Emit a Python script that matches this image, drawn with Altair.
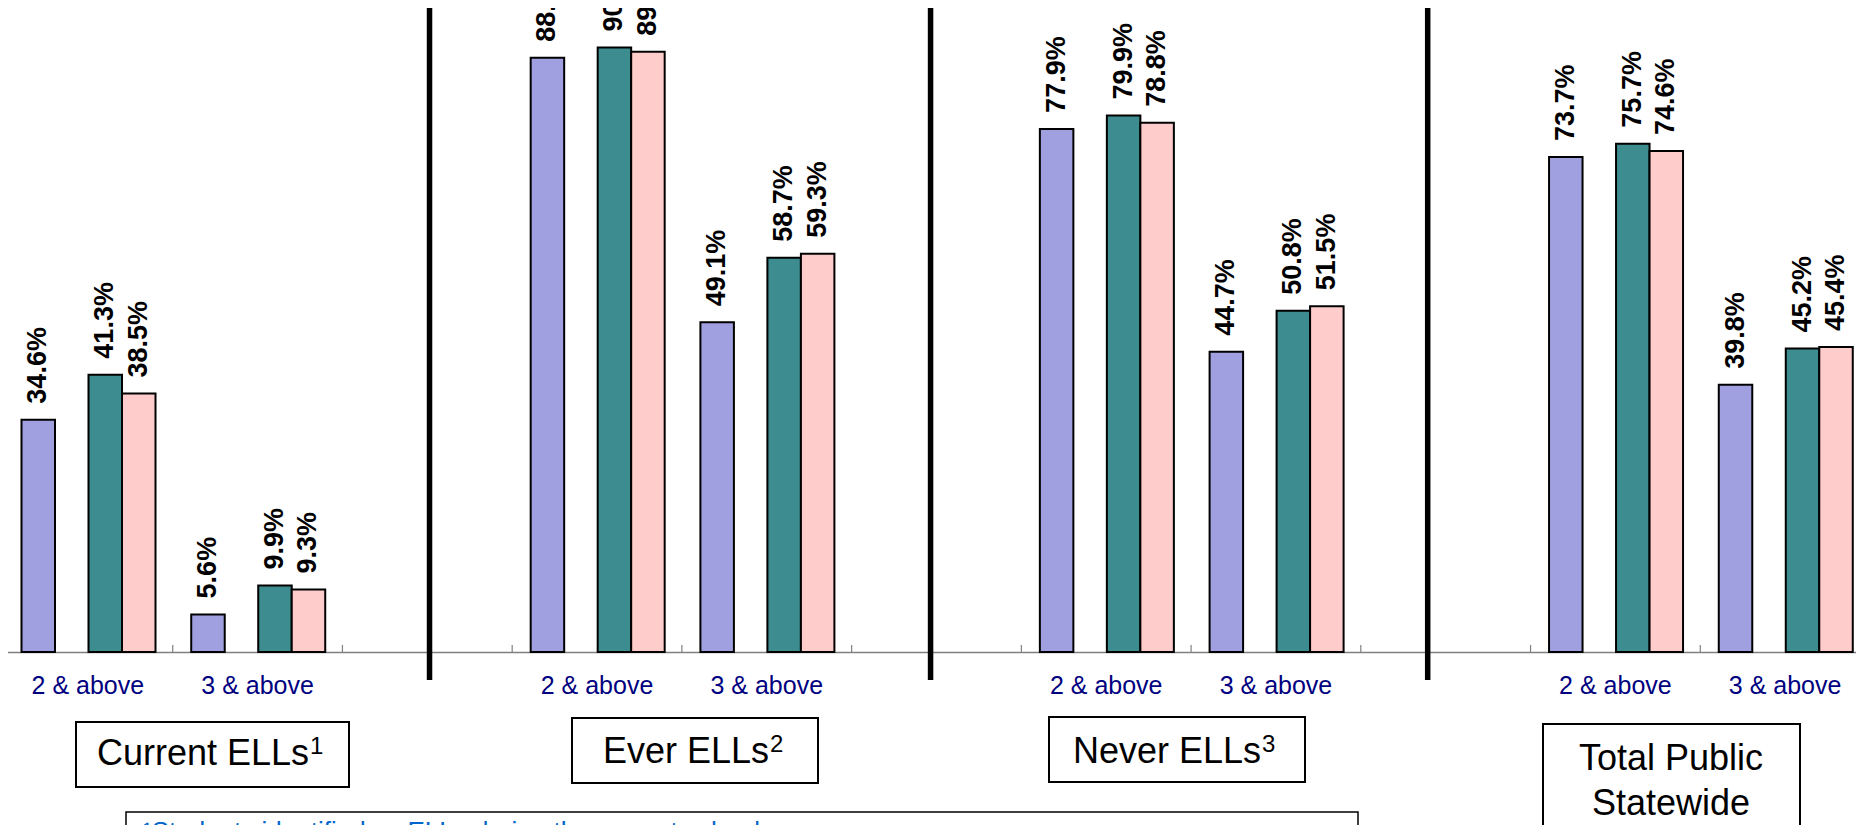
import altair as alt
import pandas as pd

# ---------------- data ----------------
groups = ["Current ELLs", "Ever ELLs", "Never ELLs", "Total Public Statewide"]
levels = ["2 & above", "3 & above"]
series = ["Series 1", "Series 2", "Series 3"]
series1 = [34.6, 5.6, 88.5, 49.1, 77.9, 44.7, 73.7, 39.8]
series2 = [41.3, 9.9, 90.0, 58.7, 79.9, 50.8, 75.7, 45.2]
series3 = [38.5, 9.3, 89.4, 59.3, 78.8, 51.5, 74.6, 45.4]
colors = ["#A0A0E0", "#3D8C8F", "#FFCCCC"]
panel_titles = ["Current ELLs", "Ever ELLs", "Never ELLs", "Total Public\nStatewide"]
panel_sups = ["1", "2", "3", ""]
footnote = "¹Students identified as ELLs during the current school year"

# x categories: two levels per group, an empty spacer slot between groups
cats = []
for i, g in enumerate(groups):
    if i > 0:
        cats.append(f"gap{i}")
    for lv in levels:
        cats.append(f"{g}|{lv}")

rows = []
for s, vals in zip(series, [series1, series2, series3]):
    k = 0
    for g in groups:
        for lv in levels:
            rows.append({"cat": f"{g}|{lv}", "series": s, "value": vals[k]})
            k += 1
df = pd.DataFrame(rows)

FONT = "Liberation Sans"

x_scale = alt.Scale(domain=cats, range=[-5, 1862], paddingInner=0, paddingOuter=0)
off_scale = alt.Scale(domain=["Series 1", "blank", "Series 2", "Series 3"],
                      range=[18.5, 152.5], paddingInner=0, paddingOuter=0)
y_scale = alt.Scale(domain=[0, 95.9], nice=False, zero=True)

x_axis = alt.Axis(
    title=None, ticks=False, tickSize=0, grid=False,
    domain=True, domainColor="#808080", domainWidth=1.5,
    labelExpr="indexof(datum.label, '|') >= 0 ? split(datum.label, '|')[1] : ''",
    labelFontSize=25, labelFont=FONT, labelColor="#000080",
    labelPadding=21, labelAngle=0, labelOverlap=False, labelFlush=False,
)


def xenc(band=None):
    if band is None:
        return alt.X("cat:N", scale=x_scale, axis=x_axis)
    return alt.X("cat:N", scale=x_scale, axis=x_axis, bandPosition=band)


bars = alt.Chart(df).mark_bar(stroke="black", strokeWidth=2).encode(
    x=xenc(),
    xOffset=alt.XOffset("series:N", scale=off_scale),
    y=alt.Y("value:Q", scale=y_scale, axis=None),
    color=alt.Color("series:N", scale=alt.Scale(domain=series, range=colors), legend=None),
)

labels = alt.Chart(df).transform_calculate(
    label="format(datum.value, '.1f') + '%'"
).mark_text(
    angle=270, align="left", baseline="middle", dx=16,
    fontSize=27, fontWeight="bold", font=FONT, color="black",
).encode(
    x=xenc(),
    xOffset=alt.XOffset("series:N", scale=off_scale),
    y=alt.Y("value:Q", scale=y_scale, axis=None),
    text="label:N",
)

ticks = alt.Chart(pd.DataFrame({"cat": cats})).mark_rule(
    color="#808080", strokeWidth=1.2
).encode(
    x=xenc(0),
    y=alt.datum(0, scale=y_scale),
    y2=alt.datum(1.05),
)

layers = [bars, labels, ticks]

# thick separators between groups
for gap, bp in [("gap1", 0.513), ("gap2", 0.465), ("gap3", 0.394)]:
    layers.append(
        alt.Chart(pd.DataFrame({"cat": [gap]})).mark_rule(
            color="black", strokeWidth=5.5
        ).encode(x=xenc(bp), y=alt.value(0), y2=alt.value(672))
    )

# group title boxes (pixel placement): box x1,x2,y1,y2 ; text x, baseline ; superscript x
boxes = [
    (68, 341, 714, 779, 89, 757, 302),
    (564, 810, 710, 775, 595, 755, 762),
    (1041, 1297, 709, 774, 1065, 755, 1254),
    (1535, 1792, 716, 842, 1663, 762, None),
]
for title, sup, (bx1, bx2, by1, by2, tx, ty, sx) in zip(panel_titles, panel_sups, boxes):
    d = pd.DataFrame({"t": [title], "s": [sup]})
    layers.append(
        alt.Chart(d).mark_rect(fill="white", stroke="black", strokeWidth=2).encode(
            x=alt.value(bx1), x2=alt.value(bx2), y=alt.value(by1), y2=alt.value(by2)
        )
    )
    layers.append(
        alt.Chart(d).mark_text(
            fontSize=36, font=FONT, color="black",
            align="left" if sx is not None else "center",
            baseline="alphabetic", lineBreak="\n", lineHeight=45,
        ).encode(x=alt.value(tx), y=alt.value(ty), text="t:N")
    )
    if sx is not None:
        layers.append(
            alt.Chart(d).mark_text(
                fontSize=24, font=FONT, color="black", align="left", baseline="alphabetic",
            ).encode(x=alt.value(sx), y=alt.value(ty - 11), text="s:N")
        )

# footnote box
fd = pd.DataFrame({"t": [footnote]})
layers.append(
    alt.Chart(fd).mark_rect(fill="white", stroke="black", strokeWidth=1.5).encode(
        x=alt.value(118), x2=alt.value(1350), y=alt.value(804), y2=alt.value(842)
    )
)
layers.append(
    alt.Chart(fd).mark_text(
        fontSize=26, font=FONT, color="#0066CC", align="left", baseline="alphabetic"
    ).encode(x=alt.value(135), y=alt.value(832), text="t:N")
)

chart = alt.layer(*layers).properties(
    width=1848, height=644,
    padding={"left": 0, "top": 0, "right": 0, "bottom": 173},
    autosize=alt.AutoSizeParams(type="none"),
    background="white",
).configure_view(stroke=None)

chart.save("out.html", embed_options={"renderer": "svg", "actions": False})
